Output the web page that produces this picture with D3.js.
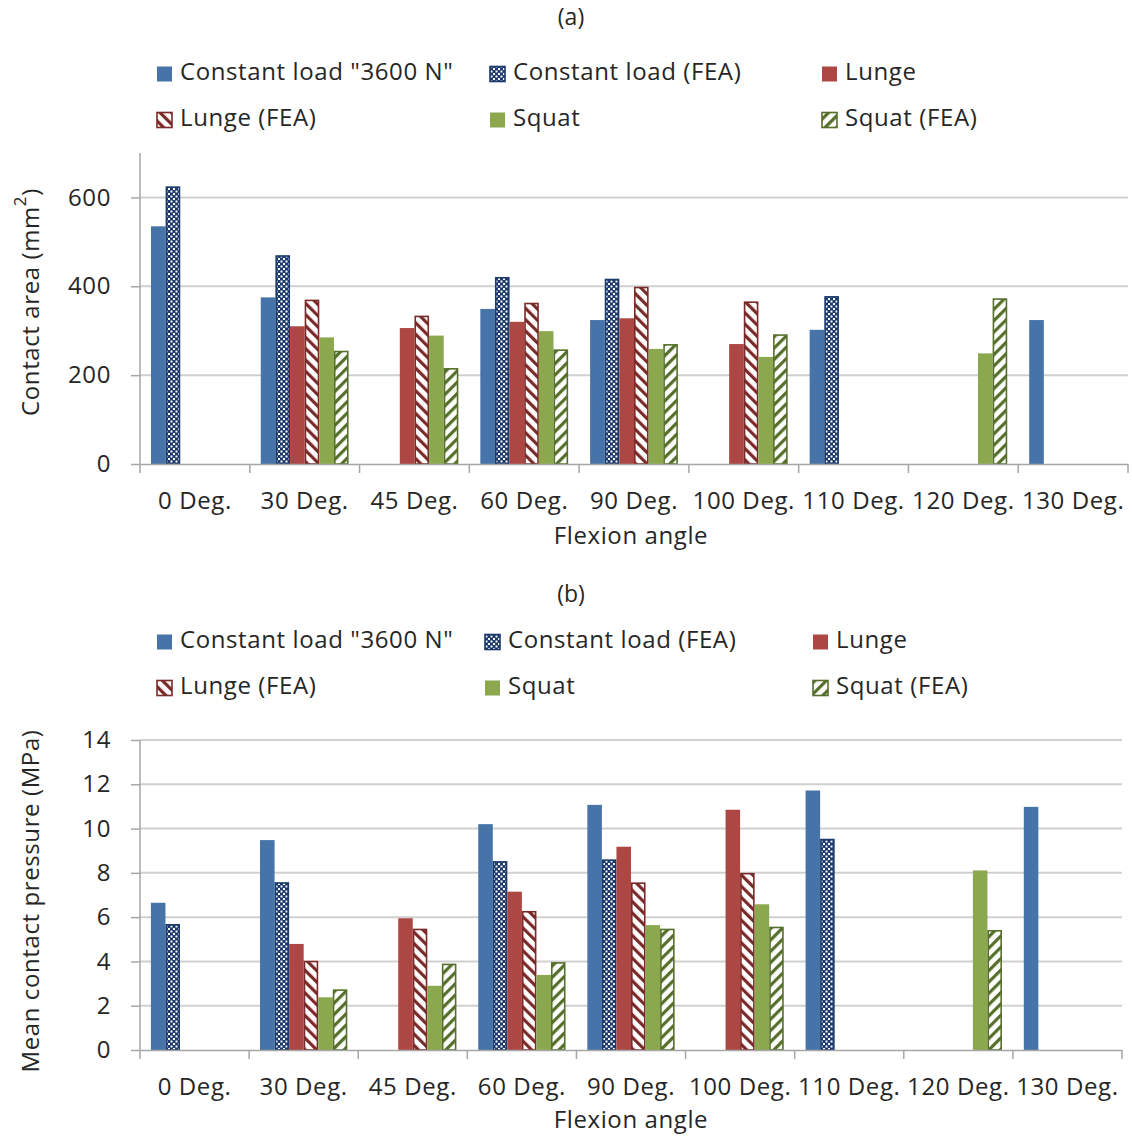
<!DOCTYPE html>
<html>
<head>
<meta charset="utf-8">
<script src="https://cdn.jsdelivr.net/npm/d3@7"></script>
<style>
  html, body { margin: 0; padding: 0; background: #fff; }
  svg text { font-family: "Open Sans", "Noto Sans", sans-serif; fill: #262626; }
</style>
</head>
<body>
<svg id="chart" width="1132" height="1137"></svg>
<script>
// Flexion angles on the category axis
const categories = ["0 Deg.", "30 Deg.", "45 Deg.", "60 Deg.", "90 Deg.", "100 Deg.", "110 Deg.", "120 Deg.", "130 Deg."];

// Series names (legend order)
const seriesNames = ["Constant load \"3600 N\"", "Constant load (FEA)", "Lunge", "Lunge (FEA)", "Squat", "Squat (FEA)"];

// (a) Contact area, mm²
const areaConstant    = [535, 375, null, 349, 324, null, 302, null, 324];
const areaConstantFEA = [625, 470, null, 421, 417, null, 378, null, null];
const areaLunge       = [null, 310, 306, 320, 328, 270, null, null, null];
const areaLungeFEA    = [null, 370, 334, 363, 399, 366, null, null, null];
const areaSquat       = [null, 285, 289, 299, 259, 241, null, 249, null];
const areaSquatFEA    = [null, 255, 216, 258, 270, 292, null, 373, null];
const areaTicks = [0, 200, 400, 600];

// (b) Mean contact pressure, MPa
const presConstant    = [6.65, 9.48, null, 10.2, 11.07, null, 11.72, null, 10.98];
const presConstantFEA = [5.69, 7.58, null, 8.53, 8.61, null, 9.54, null, null];
const presLunge       = [null, 4.79, 5.95, 7.15, 9.18, 10.85, null, null, null];
const presLungeFEA    = [null, 4.03, 5.48, 6.28, 7.57, 8.0, null, null, null];
const presSquat       = [null, 2.38, 2.90, 3.39, 5.64, 6.58, null, 8.11, null];
const presSquatFEA    = [null, 2.74, 3.90, 3.97, 5.48, 5.57, null, 5.42, null];
const presTicks = [0, 2, 4, 6, 8, 10, 12, 14];

const svg = d3.select("#chart");
const defs = svg.append("defs");

const BLUE = "#4674a9", RED = "#ad4743", GREEN = "#8ba84e";
const NAVY = "#1c3a6b", DRED = "#7a2a29", DGREEN = "#56702c";
const FS = "24px", LS = "0.6px";

// Fill patterns for the FEA series
function checker(id) {
  const p = defs.append("pattern").attr("id", id).attr("patternUnits", "userSpaceOnUse")
    .attr("width", 5).attr("height", 5);
  p.append("rect").attr("width", 5).attr("height", 5).attr("fill", NAVY);
  p.append("rect").attr("x", 0.5).attr("y", 0.5).attr("width", 2).attr("height", 2).attr("fill", "#fff");
  p.append("rect").attr("x", 3).attr("y", 3).attr("width", 2).attr("height", 2).attr("fill", "#fff");
}
function stripes(id, color, angle) {
  const p = defs.append("pattern").attr("id", id).attr("patternUnits", "userSpaceOnUse")
    .attr("width", 8).attr("height", 8).attr("patternTransform", `rotate(${angle})`);
  p.append("rect").attr("width", 8).attr("height", 8).attr("fill", "#fff");
  p.append("rect").attr("width", 3.2).attr("height", 8).attr("fill", color);
}
checker("pCheck");
stripes("pLunge", DRED, -45);
stripes("pSquat", DGREEN, 45);

const styles = [
  { fill: BLUE, stroke: "none" },
  { fill: "url(#pCheck)", stroke: NAVY },
  { fill: RED, stroke: "none" },
  { fill: "url(#pLunge)", stroke: DRED },
  { fill: GREEN, stroke: "none" },
  { fill: "url(#pSquat)", stroke: DGREEN }
];

function drawPanel(cfg) {
  const g = svg.append("g");
  const x = d3.scaleBand().domain(categories).range([cfg.left, cfg.right]).paddingInner(0).paddingOuter(0);
  const xs = d3.scaleBand().domain(d3.range(seriesNames.length)).range([0, x.bandwidth()])
    .paddingInner(0).paddingOuter(0.75);
  const y = d3.scaleLinear().domain([0, cfg.max]).range([cfg.bottom, cfg.top]);

  // title
  g.append("text").attr("x", 571).attr("y", cfg.titleY).attr("text-anchor", "middle")
    .attr("dominant-baseline", "middle").style("font-size", "23px").text(cfg.title);

  // legend: 3 columns × 2 rows
  seriesNames.forEach((name, i) => {
    const col = i % 3, row = Math.floor(i / 3);
    const lx = cfg.legendX[col], ly = cfg.legendY[row];
    const st = styles[i];
    g.append("rect").attr("x", lx).attr("y", ly - 7.5).attr("width", 15).attr("height", 15)
      .attr("fill", st.fill).attr("stroke", st.stroke === "none" ? "none" : st.stroke).attr("stroke-width", 1.6);
    g.append("text").attr("x", lx + 23).attr("y", ly).attr("dominant-baseline", "middle")
      .style("font-size", FS).style("letter-spacing", LS).text(name);
  });

  // gridlines
  g.append("g").selectAll("line").data(cfg.ticks.filter(t => t > 0)).join("line")
    .attr("x1", cfg.left).attr("x2", cfg.right)
    .attr("y1", d => y(d)).attr("y2", d => y(d))
    .attr("stroke", "#d0d0d0").attr("stroke-width", 2);

  // bars
  cfg.series.forEach((vals, si) => {
    const st = styles[si];
    const inset = st.stroke === "none" ? 0 : 0.8;
    g.append("g").selectAll("rect")
      .data(vals.map((v, ci) => ({ v, c: categories[ci] })).filter(d => d.v != null))
      .join("rect")
      .attr("x", d => x(d.c) + xs(si) + inset)
      .attr("width", xs.bandwidth() - 2 * inset)
      .attr("y", d => y(d.v) + inset)
      .attr("height", d => cfg.bottom - y(d.v) - inset)
      .attr("fill", st.fill)
      .attr("stroke", st.stroke === "none" ? "none" : st.stroke)
      .attr("stroke-width", 1.6);
  });

  // y axis
  const ya = g.append("g").attr("transform", `translate(${cfg.left},0)`)
    .call(d3.axisLeft(y).tickValues(cfg.ticks).tickSize(9).tickPadding(20).tickFormat(d3.format("d")));
  ya.select(".domain").attr("stroke", "#a6a6a6").attr("stroke-width", 1.5).attr("d", `M-0,${cfg.top}V${cfg.bottom}`);
  ya.selectAll(".tick line").attr("stroke", "#a6a6a6").attr("stroke-width", 1.5);
  ya.selectAll(".tick text").style("font-size", FS).style("letter-spacing", LS)
    .style("font-family", "\"Open Sans\", sans-serif").attr("fill", "#262626");

  // x axis
  const xa = g.append("g").attr("transform", `translate(0,${cfg.bottom})`)
    .call(d3.axisBottom(x).tickSize(0).tickPadding(28));
  xa.select(".domain").attr("stroke", "#a6a6a6").attr("stroke-width", 1.5);
  xa.selectAll(".tick text").style("font-size", FS).style("letter-spacing", LS)
    .style("font-family", "\"Open Sans\", sans-serif").attr("fill", "#262626");
  // category boundary ticks
  xa.append("g").selectAll("line").data(d3.range(categories.length + 1)).join("line")
    .attr("x1", i => cfg.left + i * x.step()).attr("x2", i => cfg.left + i * x.step())
    .attr("y1", 0).attr("y2", 9).attr("stroke", "#a6a6a6").attr("stroke-width", 1.5);

  // axis titles
  g.append("text").attr("x", 631).attr("y", cfg.xTitleY).attr("text-anchor", "middle")
    .attr("dominant-baseline", "middle").style("font-size", FS).style("letter-spacing", LS).text("Flexion angle");
  const yt = g.append("text").attr("transform", `translate(33,${cfg.yTitleY}) rotate(-90)`)
    .attr("text-anchor", "middle").attr("dominant-baseline", "middle")
    .style("font-size", FS).style("letter-spacing", LS);
  cfg.yTitle(yt);
}

drawPanel({
  title: "(a)", titleY: 19,
  legendX: [157, 490, 822], legendY: [74, 120],
  left: 140, right: 1128, top: 153, bottom: 464, max: 700, ticks: areaTicks,
  series: [areaConstant, areaConstantFEA, areaLunge, areaLungeFEA, areaSquat, areaSquatFEA],
  xTitleY: 538, yTitleY: 302,
  yTitle: t => {
    t.append("tspan").text("Contact area (mm");
    t.append("tspan").attr("baseline-shift", "super").style("font-size", "17px").text("2");
    t.append("tspan").text(")");
  }
});

drawPanel({
  title: "(b)", titleY: 596,
  legendX: [157, 485, 813], legendY: [642, 688],
  left: 140, right: 1122, top: 740, bottom: 1050, max: 14, ticks: presTicks,
  series: [presConstant, presConstantFEA, presLunge, presLungeFEA, presSquat, presSquatFEA],
  xTitleY: 1122, yTitleY: 901,
  yTitle: t => t.text("Mean contact pressure  (MPa)")
});
</script>
</body>
</html>
